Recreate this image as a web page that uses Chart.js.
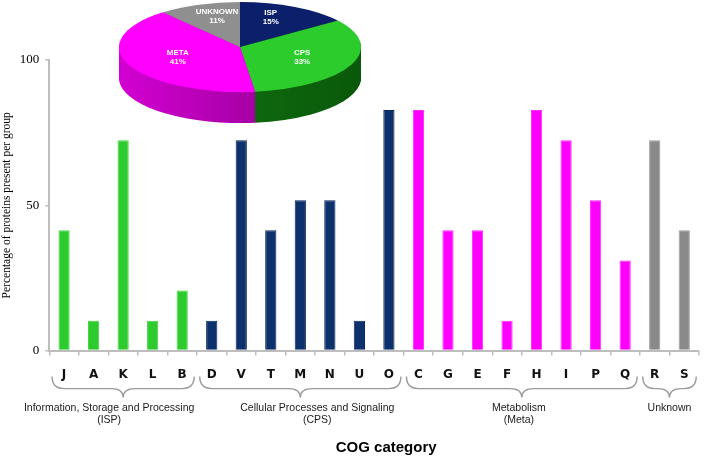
<!DOCTYPE html>
<html>
<head>
<meta charset="utf-8">
<script src="https://cdn.jsdelivr.net/npm/chart.js@4.4.0/dist/chart.umd.min.js"></script>
<style>
  body { margin: 0; background: #fff; }
  #wrap { position: relative; width: 713px; height: 456px; }
  #mainBox { position: absolute; left: 0; top: 0; width: 713px; height: 456px; }
  #pieBox { position: absolute; left: 110px; top: 0; width: 260px; height: 260px; }
</style>
</head>
<body>
<div id="wrap">
  <div id="mainBox"><canvas id="cogChart"></canvas></div>
  <div id="pieBox"><canvas id="pieChart"></canvas></div>
</div>
<script>
// COG categories and % of proteins present per group
var categories = ['J','A','K','L','B','D','V','T','M','N','U','O','C','G','E','F','H','I','P','Q','R','S'];
var percentages = [41.4,10.3,72.4,10.3,20.7,10.3,72.4,41.4,51.7,51.7,10.3,82.8,82.8,41.4,41.4,10.3,82.8,72.4,51.7,31.0,72.4,41.4];
var groupSizes = [5, 7, 8, 2];
var groupLabels = [
  ['Information, Storage and Processing', '(ISP)'],
  ['Cellular Processes and Signaling', '(CPS)'],
  ['Metabolism', '(Meta)'],
  ['Unknown']
];
var yTicks = [0, 50, 100];

// inset pie
var pieLabels = ['ISP', 'CPS', 'META', 'UNKNOWN'];
var pieValues = [15, 33, 41, 11];

// styles
var groupFill = ['#2ecb2e', '#0c316c', '#ff00ff', '#8a8a8a'];
var groupBorder = ['#45d645', '#0a2656', '#ff2cff', '#9c9c9c'];
var groupLabelShift = [-14, 17, -3, 0];
var pieColors = ['#0b1f6b', '#2ccc2c', '#ff00ff', '#8f8f8f'];
var pieSideLight = ['#071550', '#137d13', '#d200d2', '#6a6a6a'];
var pieSideDark = ['#050f3a', '#0a580a', '#860082', '#555555'];
var axisGray = '#bdbdbd';

var barFill = [], barBorder = [];
groupSizes.forEach(function (n, g) {
  for (var i = 0; i < n; i++) { barFill.push(groupFill[g]); barBorder.push(groupBorder[g]); }
});

// braces, group names and axis title under the category letters
var bracePlugin = {
  id: 'braces',
  afterDraw: function (chart) {
    var ctx = chart.ctx, x = chart.scales.x, base = chart.chartArea.bottom;
    var start = 0;
    ctx.save();
    groupSizes.forEach(function (n, g) {
      var x0 = x.getPixelForValue(start) - 12;
      var x1 = x.getPixelForValue(start + n - 1) + 12;
      var xm = (x0 + x1) / 2, r = 12;
      var y0 = base + 26, y1 = base + 38, y2 = base + 47;
      ctx.strokeStyle = '#9a9a9a';
      ctx.lineWidth = 1.4;
      ctx.beginPath();
      ctx.moveTo(x0, y0);
      ctx.quadraticCurveTo(x0, y1, x0 + r, y1);
      ctx.lineTo(xm - r, y1);
      ctx.quadraticCurveTo(xm, y1, xm, y2);
      ctx.quadraticCurveTo(xm, y1, xm + r, y1);
      ctx.lineTo(x1 - r, y1);
      ctx.quadraticCurveTo(x1, y1, x1, y0);
      ctx.stroke();

      ctx.fillStyle = '#1a1a1a';
      ctx.font = '10.5px "Liberation Sans", Arial, sans-serif';
      ctx.textAlign = 'center';
      ctx.textBaseline = 'middle';
      groupLabels[g].forEach(function (line, j) {
        ctx.fillText(line, xm + groupLabelShift[g], base + 58 + j * 12);
      });
      start += n;
    });
    ctx.fillStyle = '#000';
    ctx.font = 'bold 15px "Liberation Sans", Arial, sans-serif';
    ctx.fillText('COG category', (chart.chartArea.left + chart.chartArea.right) / 2 + 12, base + 97);
    ctx.restore();
  }
};

new Chart(document.getElementById('cogChart').getContext('2d'), {
  type: 'bar',
  data: {
    labels: categories,
    datasets: [{
      data: percentages,
      backgroundColor: barFill,
      borderColor: barBorder,
      borderWidth: 1,
      barPercentage: 0.38,
      categoryPercentage: 1.0
    }]
  },
  options: {
    responsive: true,
    maintainAspectRatio: false,
    animation: false,
    events: [],
    layout: { padding: { top: 60, left: 0, right: 14, bottom: 62 } },
    plugins: { legend: { display: false }, tooltip: { enabled: false } },
    scales: {
      x: {
        grid: { offset: true, drawOnChartArea: false, tickLength: 5, color: axisGray, lineWidth: 1.5 },
        border: { color: axisGray, width: 2 },
        ticks: { color: '#111', padding: 12, font: { family: '"DejaVu Sans", Verdana, sans-serif', weight: 'bold', size: 12 } }
      },
      y: {
        min: 0,
        max: 100,
        afterBuildTicks: function (axis) { axis.ticks = yTicks.map(function (v) { return { value: v }; }); },
        grid: { drawOnChartArea: false, tickLength: 4, color: axisGray, lineWidth: 1.5 },
        border: { color: axisGray, width: 2 },
        ticks: { color: '#000', padding: 6, font: { family: '"Liberation Serif", "Times New Roman", serif', size: 13 } },
        title: {
          display: true,
          text: 'Percentage of proteins present per group',
          color: '#000',
          padding: { top: 0, bottom: 0 },
          font: { family: '"Liberation Serif", "Times New Roman", serif', size: 11.5 }
        }
      }
    }
  },
  plugins: [bracePlugin]
});

// pseudo-3D pie: squash the disc and draw a shaded rim under it
var pieCenterY = 47, pieSquash = 0.372, pieDepth = 31;
var pie3d = {
  id: 'pie3d',
  beforeDatasetsDraw: function (chart) {
    var ctx = chart.ctx, arcs = chart.getDatasetMeta(0).data;
    var cx = arcs[0].x, cy = arcs[0].y, r = arcs[0].outerRadius;
    for (var s = pieDepth; s >= 1; s--) {
      ctx.save();
      ctx.translate(cx, pieCenterY + s);
      ctx.scale(1, pieSquash);
      ctx.translate(-cx, -cy);
      arcs.forEach(function (a, i) {
        var grad = ctx.createLinearGradient(cx - r, 0, cx + r, 0);
        grad.addColorStop(0, pieSideLight[i]);
        grad.addColorStop(1, pieSideDark[i]);
        ctx.fillStyle = grad;
        ctx.beginPath();
        ctx.moveTo(cx, cy);
        ctx.arc(cx, cy, r, a.startAngle, a.endAngle);
        ctx.closePath();
        ctx.fill();
      });
      ctx.restore();
    }
    ctx.save();
    ctx.translate(cx, pieCenterY);
    ctx.scale(1, pieSquash);
    ctx.translate(-cx, -cy);
  },
  afterDatasetsDraw: function (chart) {
    var ctx = chart.ctx, arcs = chart.getDatasetMeta(0).data;
    ctx.restore();
    var cx = arcs[0].x, r = arcs[0].outerRadius;
    ctx.save();
    ctx.fillStyle = '#fff';
    ctx.font = 'bold 8px "Liberation Sans", Arial, sans-serif';
    ctx.textAlign = 'center';
    ctx.textBaseline = 'middle';
    arcs.forEach(function (a, i) {
      var mid = (a.startAngle + a.endAngle) / 2;
      var lx = cx + 0.56 * r * Math.cos(mid);
      var ly = pieCenterY + 0.68 * r * Math.sin(mid) * pieSquash - 2.5;
      ctx.fillText(pieLabels[i], lx, ly - 4);
      ctx.fillText(pieValues[i] + '%', lx, ly + 5);
    });
    ctx.restore();
  }
};

new Chart(document.getElementById('pieChart').getContext('2d'), {
  type: 'pie',
  data: {
    labels: pieLabels,
    datasets: [{
      data: pieValues,
      backgroundColor: pieColors,
      borderWidth: 0,
      clip: false
    }]
  },
  options: {
    responsive: true,
    maintainAspectRatio: false,
    animation: false,
    events: [],
    layout: { padding: 9 },
    plugins: { legend: { display: false }, tooltip: { enabled: false } }
  },
  plugins: [pie3d]
});
</script>
</body>
</html>
